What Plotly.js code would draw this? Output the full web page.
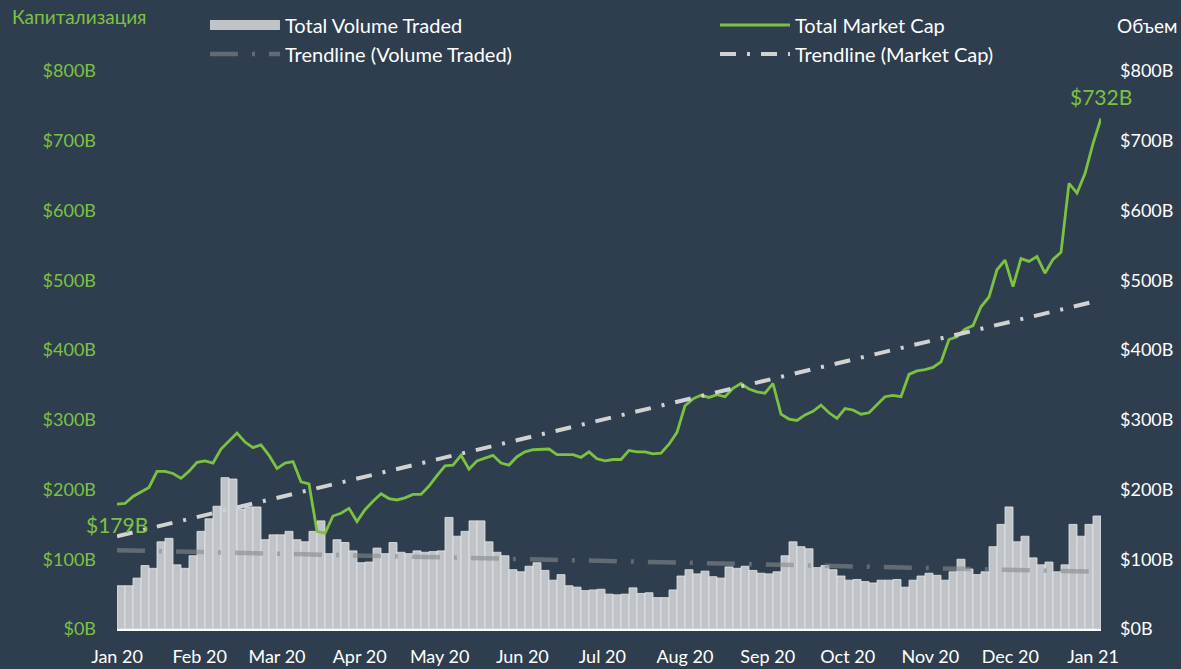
<!DOCTYPE html>
<html>
<head>
<meta charset="utf-8">
<script src="https://cdn.plot.ly/plotly-3.0.1.min.js"></script>
<style>
html,body{margin:0;padding:0;background:#2e3e4e;}
#chart{width:1181px;height:669px;}
</style>
</head>
<body>
<div id="chart"></div>
<script>
// ---- data (billions USD), sampled every 3 days from 2020-01-01 ----
const startDate = '2020-01-01';
const stepDays = 3;

// Total volume traded (bars), one value per 3-day bucket
const volume = [
  62, 62, 73, 91, 87, 125, 130, 92, 87, 105, 140, 158, 176, 217, 215, 172, 175, 175, 128, 135,
  135, 140, 128, 125, 140, 155, 108, 128, 124, 112, 95, 96, 116, 108, 124, 110, 108, 112, 110, 111,
  112, 160, 133, 140, 155, 155, 125, 110, 105, 85, 82, 90, 95, 84, 70, 78, 62, 60, 55, 56,
  57, 50, 49, 50, 59, 51, 52, 45, 45, 56, 76, 85, 79, 83, 75, 73, 89, 87, 90, 84,
  80, 79, 82, 105, 125, 118, 115, 88, 91, 85, 76, 70, 71, 68, 66, 70, 70, 71, 60, 70,
  76, 80, 77, 70, 82, 100, 86, 78, 82, 118, 150, 175, 125, 133, 102, 92, 96, 82, 92, 150,
  133, 150, 162
];

// Total market cap (line), one value per sample date
const marketCap = [
  179, 180, 190, 197, 203, 226, 226, 223, 216, 226, 239, 241, 238, 258, 270, 281, 268, 260, 264, 249,
  230, 238, 240, 211, 208, 140, 137, 162, 166, 173, 154, 171, 183, 194, 187, 185, 188, 193, 193, 205,
  220, 234, 235, 249, 229, 241, 245, 249, 238, 235, 247, 254, 257, 258, 258, 250, 250, 250, 246, 254,
  244, 241, 243, 243, 256, 254, 254, 251, 252, 265, 282, 320, 330, 335, 332, 336, 333, 345, 352, 344,
  340, 338, 352, 308, 301, 299, 307, 312, 321, 310, 302, 316, 314, 308, 310, 321, 333, 335, 333, 365,
  370, 372, 375, 383, 415, 419, 430, 435, 462, 476, 515, 529, 491, 531, 527, 534, 510, 530, 540, 639,
  625, 653, 696, 732
];

// Trendlines (start / end)
const volTrendDates = ['2020-01-01', '2021-01-03'];
const volTrend = [113, 82];
const capTrendDates = ['2020-01-01', '2020-12-31'];
const capTrend = [133, 468];

const labels = {
  volume: 'Total Volume Traded',
  volTrend: 'Trendline (Volume Traded)',
  cap: 'Total Market Cap',
  capTrend: 'Trendline (Market Cap)',
  leftTitle: 'Капитализация',
  rightTitle: 'Объем'
};

// ---- build date arrays ----
const DAY = 86400000;
const t0 = Date.parse(startDate + 'T00:00:00Z');
function iso(ms){
  const d = new Date(ms);
  return d.toISOString().replace('T',' ').slice(0,19);
}
const lineDates = marketCap.map((_, i) => iso(t0 + i*stepDays*DAY));
const barDates = volume.map((_, i) => iso(t0 + (i*stepDays + stepDays/2)*DAY));

const GREEN = '#7dc142';
const BG = '#2e3e4e';
const FONT = 'Lato, "Open Sans", sans-serif';

const traces = [
  {
    type: 'bar', x: barDates, y: volume, yaxis: 'y',
    width: stepDays*DAY,
    marker: {color: '#c0c4c8', line: {color: '#e4e6e8', width: 0.8}},
    showlegend: false, name: labels.volume, hoverinfo: 'skip'
  },
  {
    type: 'scatter', mode: 'lines', x: [null], y: [null], yaxis: 'y',
    line: {color: '#c0c4c8', width: 13},
    name: labels.volume, legend: 'legend', legendrank: 1
  },
  {
    type: 'scatter', mode: 'lines', x: volTrendDates, y: volTrend, yaxis: 'y',
    line: {color: 'rgba(133,137,141,0.6)', width: 4.5, dash: '28px,14px,3px,14px'},
    name: labels.volTrend, legend: 'legend', legendrank: 2
  },
  {
    type: 'scatter', mode: 'lines', x: lineDates, y: marketCap, yaxis: 'y2',
    line: {color: GREEN, width: 2.8},
    name: labels.cap, legend: 'legend2', legendrank: 1
  },
  {
    type: 'scatter', mode: 'lines', x: capTrendDates, y: capTrend, yaxis: 'y2',
    line: {color: '#d2d2d2', width: 4, dash: '16px,11px,3px,11px'},
    name: labels.capTrend, legend: 'legend2', legendrank: 2
  }
];

const yCommon = {
  range: [0, 800], dtick: 100, tick0: 0,
  tickprefix: '$', ticksuffix: 'B',
  showgrid: false, zeroline: false, showline: false,
  ticks: '', fixedrange: true
};

const legendCommon = {
  y: 1.1174, xanchor: 'left', yanchor: 'top',
  orientation: 'v', bgcolor: 'rgba(0,0,0,0)', borderwidth: 0,
  itemwidth: 70, tracegroupgap: 0,
  font: {family: FONT, size: 20, color: '#ffffff'}
};

const layout = {
  width: 1181, height: 669,
  margin: {l: 117, r: 80, t: 71, b: 40, pad: 0, autoexpand: false},
  paper_bgcolor: BG, plot_bgcolor: BG,
  font: {family: FONT, size: 18, color: '#ffffff'},
  bargap: 0,
  showlegend: true,
  xaxis: {
    type: 'date', range: ['2020-01-01', '2021-01-04'],
    tick0: '2020-01-01', dtick: 'M1', tickformat: '%b %y',
    showgrid: false, zeroline: false,
    showline: true, linecolor: '#ffffff', linewidth: 2,
    ticks: '', ticklabelstandoff: 10,
    tickfont: {family: FONT, size: 18, color: '#ffffff'}
  },
  yaxis: Object.assign({}, yCommon, {
    side: 'left', ticklabelstandoff: 20,
    tickfont: {family: FONT, size: 18, color: GREEN}
  }),
  yaxis2: Object.assign({}, yCommon, {
    side: 'right', overlaying: 'y', ticklabelstandoff: 18,
    tickfont: {family: FONT, size: 18, color: '#ffffff'}
  }),
  legend: Object.assign({}, legendCommon, {x: 0.0894}),
  legend2: Object.assign({}, legendCommon, {x: 0.6077}),
  annotations: [
    {
      xref: 'paper', yref: 'paper', x: -0.1087, y: 1.097,
      xanchor: 'left', yanchor: 'middle', showarrow: false,
      text: labels.leftTitle, font: {family: FONT, size: 19, color: GREEN}
    },
    {
      xref: 'paper', yref: 'paper', x: 1.0795, y: 1.082,
      xanchor: 'right', yanchor: 'middle', showarrow: false,
      text: labels.rightTitle, font: {family: FONT, size: 19, color: '#ffffff'}
    },
    {
      xref: 'x', yref: 'y2', x: lineDates[0], y: marketCap[0],
      xanchor: 'center', yanchor: 'middle', yshift: -20, showarrow: false,
      text: '$' + marketCap[0] + 'B', font: {family: FONT, size: 21, color: GREEN}
    },
    {
      xref: 'x', yref: 'y2', x: lineDates[lineDates.length-1], y: marketCap[marketCap.length-1],
      xanchor: 'center', yanchor: 'middle', yshift: 22, showarrow: false,
      text: '$' + marketCap[marketCap.length-1] + 'B', font: {family: FONT, size: 21, color: GREEN}
    }
  ]
};

Plotly.newPlot('chart', traces, layout, {displayModeBar: false, staticPlot: true});
</script>
</body>
</html>
